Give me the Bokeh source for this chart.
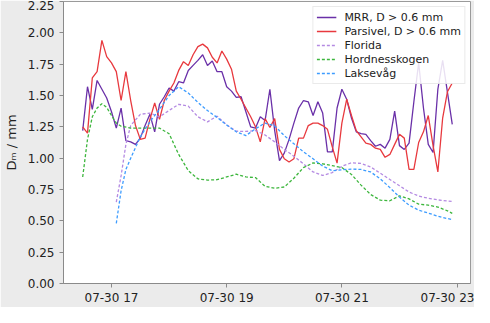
from datetime import datetime, timedelta
from bokeh.plotting import figure
from bokeh.models import FixedTicker, DatetimeTickFormatter, NumeralTickFormatter, Range1d
from bokeh.embed import file_html
from bokeh.resources import INLINE

# ---------------- data ----------------
day = "2020-07-30"
series_start = "16:30"
step_minutes = 5

mrr = [1.22, 1.57, 1.39, 1.62, 1.55, 1.48, 1.37, 1.24, 1.40, 1.14,
       1.13, 1.11, 1.16, 1.26, 1.35, 1.21, 1.43, 1.49, 1.56, 1.535,
       1.61, 1.60, 1.70, 1.74, 1.78, 1.825, 1.74, 1.775, 1.69, 1.69,
       1.57, 1.535, 1.485, 1.49, 1.37, 1.25, 1.24, 1.33, 1.30, 1.55,
       1.22, 0.98, 1.04, 1.15, 1.28, 1.40, 1.46, 1.45, 1.34, 1.45,
       1.36, 1.05, 1.05, 1.40, 1.55, 1.47, 1.32, 1.21, 1.195, 1.19,
       1.14, 1.095, 1.11, 1.08, 1.15, 1.375, 1.10, 1.07, 1.12, 1.45,
       1.76, 1.40, 1.11, 1.045, 1.55, 1.78, 1.525, 1.27]

parsivel = [1.25, 1.20, 1.64, 1.69, 1.94, 1.81, 1.76, 1.69, 1.46, 1.69,
            1.46, 1.26, 1.15, 1.16, 1.31, 1.44, 1.31, 1.46, 1.535, 1.60,
            1.70, 1.77, 1.74, 1.825, 1.89, 1.91, 1.88, 1.805, 1.76, 1.855,
            1.79, 1.71, 1.535, 1.47, 1.40, 1.33, 1.25, 1.13, 1.315, 1.245,
            1.315, 1.07, 0.995, 0.97, 0.995, 1.16, 1.16, 1.26, 1.28, 1.28,
            1.26, 1.23, 1.09, 0.96, 1.28, 1.47, 1.34, 1.22, 1.17, 1.12,
            1.11, 1.08, 1.07, 1.007, 1.03, 1.11, 1.19, 1.16, 0.91, 0.91,
            1.125, 1.21, 1.34, 1.10, 0.89, 1.32, 1.53, 1.60]

hord_times = ["16:30", "16:35", "16:40", "16:45", "16:50", "16:55", "17:00", "17:05",
              "17:10", "17:20", "17:30", "17:40", "17:50", "18:00", "18:10", "18:20",
              "18:30", "18:40", "18:50", "19:00", "19:10", "19:20", "19:30", "19:40",
              "19:50", "20:00", "20:10", "20:20", "20:30", "20:40", "20:50", "21:00",
              "21:10", "21:20", "21:30", "21:40", "21:50", "22:00", "22:10", "22:20",
              "22:30", "22:40", "22:50", "22:55"]
hord = [0.85, 1.15, 1.33, 1.40, 1.435, 1.405, 1.34, 1.28,
        1.255, 1.24, 1.24, 1.24, 1.24, 1.195, 1.03, 0.90,
        0.835, 0.825, 0.828, 0.85, 0.872, 0.85, 0.845, 0.775,
        0.76, 0.77, 0.84, 0.925, 0.962, 0.955, 0.94, 0.925,
        0.87, 0.785, 0.71, 0.665, 0.66, 0.70, 0.675, 0.633,
        0.625, 0.61, 0.58, 0.56]

model_times = ["17:05", "17:10", "17:15", "17:20", "17:30", "17:40", "17:50", "18:00",
               "18:10", "18:20", "18:30", "18:40", "18:50", "19:00", "19:10", "19:20",
               "19:30", "19:40", "19:50", "20:00", "20:10", "20:20", "20:30", "20:40",
               "20:50", "21:00", "21:10", "21:20", "21:30", "21:40", "21:50", "22:00",
               "22:10", "22:20", "22:30", "22:40", "22:50", "22:55"]
florida = [0.65, 0.86, 1.11, 1.26, 1.35, 1.36, 1.33, 1.38,
           1.43, 1.415, 1.33, 1.29, 1.335, 1.265, 1.215, 1.213,
           1.22, 1.185, 1.13, 1.07, 1.015, 0.955, 0.89, 0.862,
           0.885, 0.935, 0.963, 0.958, 0.93, 0.88, 0.83, 0.78,
           0.73, 0.698, 0.68, 0.667, 0.658, 0.655]
laksevag = [0.48, 0.74, 0.91, 1.00, 1.17, 1.29, 1.39, 1.50,
            1.57, 1.52, 1.445, 1.38, 1.325, 1.265, 1.21, 1.18,
            1.235, 1.28, 1.258, 1.18, 1.115, 1.05, 0.995, 0.937,
            0.90, 0.907, 0.913, 0.91, 0.89, 0.835, 0.765, 0.69,
            0.625, 0.585, 0.562, 0.537, 0.518, 0.51]

x_start, x_end = "16:10", "23:14"
x_tick_hours = ["17:00", "19:00", "21:00", "23:00"]
y_ticks = [0.0, 0.25, 0.5, 0.75, 1.0, 1.25, 1.5, 1.75, 2.0, 2.25]

# ---------------- helpers ----------------
def t(hm):
    return datetime.strptime(day + " " + hm, "%Y-%m-%d %H:%M")

def ms(dt):
    return (dt - datetime(1970, 1, 1)).total_seconds() * 1000.0

t0 = t(series_start)
obs_times = [t0 + timedelta(minutes=step_minutes * i) for i in range(len(mrr))]

p = figure(width=474, height=307, x_axis_type="datetime",
           x_range=Range1d(t(x_start), t(x_end)), y_range=Range1d(0, 2.25),
           output_backend="svg", toolbar_location=None,
           min_border_left=47, min_border_right=4, min_border_top=1, min_border_bottom=18)

p.background_fill_color = "white"
p.border_fill_color = "#ebebeb"
p.outline_line_color = "#9a9a9a"
p.outline_line_width = 1
p.grid.visible = False

dash = "3 2"
p.line(obs_times, mrr, color="#6a30a8", line_width=1.3, legend_label="MRR, D > 0.6 mm")
p.line(obs_times, parsivel, color="#e8393e", line_width=1.3, legend_label="Parsivel, D > 0.6 mm")
p.line([t(s) for s in model_times], florida, color="#b48ae2", line_width=1.3,
       line_dash=dash, legend_label="Florida")
p.line([t(s) for s in hord_times], hord, color="#3db63d", line_width=1.3,
       line_dash=dash, legend_label="Hordnesskogen")
p.line([t(s) for s in model_times], laksevag, color="#3d9cff", line_width=1.3,
       line_dash=dash, legend_label="Laksevåg")

# axes
p.xaxis.ticker = FixedTicker(ticks=[ms(t(h)) for h in x_tick_hours])
p.xaxis.formatter = DatetimeTickFormatter(hours="%m-%d %H", days="%m-%d %H",
                                          minutes="%m-%d %H", hourmin="%m-%d %H")
p.yaxis.ticker = FixedTicker(ticks=y_ticks)
p.yaxis.formatter = NumeralTickFormatter(format="0.00")
for ax in (p.xaxis, p.yaxis):
    ax.major_label_text_font = "DejaVu Sans"
    ax.major_label_text_font_size = "12px"
    ax.major_label_text_color = "#222222"
    ax.axis_line_color = "#8a8a8a"
    ax.major_tick_line_color = "#8a8a8a"
    ax.major_tick_out = 4
    ax.major_tick_in = 0
    ax.minor_tick_line_color = None
p.xaxis.major_label_standoff = 3
p.yaxis.axis_label = "Dₘ / mm"
p.yaxis.axis_label_text_font = "DejaVu Sans"
p.yaxis.axis_label_text_font_style = "normal"
p.yaxis.axis_label_text_font_size = "13px"
p.yaxis.axis_label_text_color = "#222222"
p.yaxis.axis_label_standoff = 6

# legend
lg = p.legend[0]
lg.location = "top_right"
lg.label_text_font = "DejaVu Sans"
lg.label_text_font_size = "11px"
lg.label_text_color = "#222222"
lg.glyph_width = 20
lg.glyph_height = 14
lg.label_height = 14
lg.label_standoff = 8
lg.spacing = 0
lg.padding = 3
lg.margin = 5
lg.border_line_color = "#d6d6d6"
lg.background_fill_alpha = 0.85

open("out.html", "w").write(file_html(p, INLINE))
